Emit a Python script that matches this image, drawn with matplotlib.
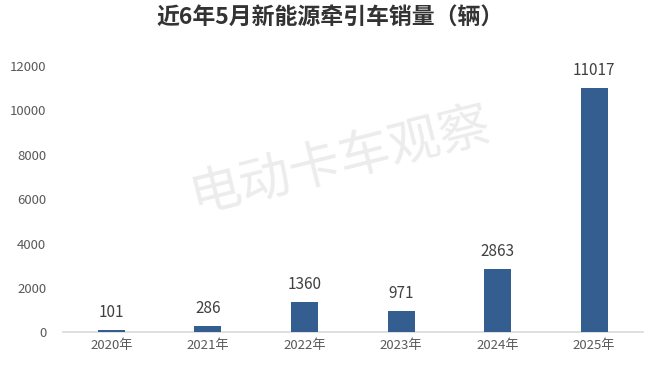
import matplotlib
matplotlib.use("Agg")
import matplotlib.pyplot as plt

plt.rcParams['font.family'] = ['Noto Sans CJK SC', 'DejaVu Sans']

years = ['2020年', '2021年', '2022年', '2023年', '2024年', '2025年']
sales = [101, 286, 1360, 971, 2863, 11017]
yticks = [0, 2000, 4000, 6000, 8000, 10000, 12000]

fig = plt.figure(figsize=(6.6, 3.74), dpi=100)
ax = fig.add_axes([0.0955, 0.111, 0.878, 0.7125])

x = range(len(years))
bars = ax.bar(x, sales, width=0.28, color='#345d90', zorder=3)
for xi, v in zip(x, sales):
    ax.text(xi, v + 420, str(v), ha='center', va='bottom', fontsize=11, color='#404040')

ax.set_xlim(-0.5, len(years) - 0.5)
ax.set_ylim(0, 12000)
ax.set_yticks(yticks)
ax.set_yticklabels([str(t) for t in yticks])
ax.set_xticks(list(x))
ax.set_xticklabels(years)
ax.tick_params(axis='both', length=0, labelsize=9.5, colors='#595959')
ax.tick_params(axis='y', pad=12)
ax.tick_params(axis='x', pad=5)

for s in ['top', 'right', 'left']:
    ax.spines[s].set_visible(False)
ax.spines['bottom'].set_color('#d9d9d9')
ax.spines['bottom'].set_linewidth(1.2)

# watermark
fig.text(0.515, 0.57, '电动卡车观察', fontsize=37, color='#ececec', rotation=14,
         ha='center', va='center', zorder=0)

fig.text(0.5, 0.95, '近6年5月新能源牵引车销量（辆）', ha='center', va='center',
         fontsize=16.5, fontweight='bold', color='#333333')

fig.savefig('out.png', dpi=100)
